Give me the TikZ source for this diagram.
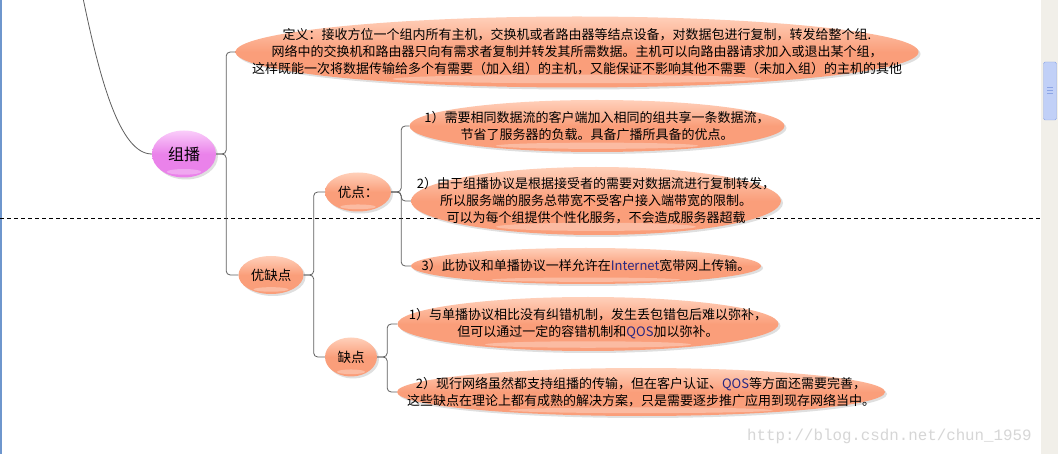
\documentclass[tikz,border=0pt]{standalone}
\usepackage{fontspec}
\setmainfont{Noto Sans CJK SC}
\newfontfamily\urlfont{Liberation Mono}
\usetikzlibrary{shapes.geometric,shadows,calc}

\definecolor{leaffill}{RGB}{250,158,122}
\definecolor{leaftop}{RGB}{255,208,186}
\definecolor{rootfill}{RGB}{234,130,234}
\definecolor{roottop}{RGB}{250,205,250}
\definecolor{linkgray}{RGB}{95,95,95}
\definecolor{latinblue}{RGB}{40,40,130}
\definecolor{markgray}{RGB}{214,214,214}
\definecolor{barbg}{RGB}{241,239,233}
\definecolor{thumbblue}{RGB}{193,208,247}
\definecolor{thumbedge}{RGB}{140,165,230}
\definecolor{edgeblue}{RGB}{110,150,205}

\newcommand\row[1]{\makebox[0pt]{#1}}

\tikzset{
  gloss/.style={path picture={
      \fill[white,opacity=.3]
        let \p1=(path picture bounding box.north east),
            \p2=(path picture bounding box.south west) in
        ($(\p2)!.5!(\p1)+(0pt,{-0.38*(\y1-\y2)})$)
        ellipse [x radius={0.27*(\x1-\x2)}, y radius={0.06*(\y1-\y2)}];
    }},
  bubble/.style={ellipse, inner sep=0pt, align=center, gloss,
    top color=leaftop, bottom color=leaffill, middle color=leaffill,
    drop shadow={shadow xshift=2pt, shadow yshift=-2pt, opacity=.25},
    font=\fontsize{13}{17}\selectfont},
  rootball/.style={top color=roottop, bottom color=rootfill, middle color=rootfill,
    font=\fontsize{16}{18}\selectfont},
  branch/.style={to path={(\tikztostart.east) -- ++(10,0) |- (\tikztotarget.west)}}
}

\begin{document}
\begin{tikzpicture}[x=1pt,y=-1pt]

        \useasboundingbox (0,0) rectangle (1058,454);
        \fill[white] (0,0) rectangle (1058,454);
        \fill[edgeblue] (0,0) rectangle (1.5,454);

        % dashed page line
        \draw[dash pattern=on 4pt off 3pt, line width=.8pt] (0,218) -- (1040,218);

        \begin{scope}[every node/.style={bubble}]
          \node[rootball, minimum width=64, minimum height=47] (root) at (184,154) {组播};
          \node[minimum width=683, minimum height=71] (def) at (577,52)
            {\row{定义：接收方位一个组内所有主机，交换机或者路由器等结点设备，对数据包进行复制，转发给整个组.}\\
             \row{网络中的交换机和路由器只向有需求者复制并转发其所需数据。主机可以向路由器请求加入或退出某个组，}\\
             \row{这样既能一次将数据传输给多个有需要（加入组）的主机，又能保证不影响其他不需要（未加入组）的主机的其他}};
          \node[minimum width=65, minimum height=38, font=\fontsize{13.5}{15}\selectfont] (pc) at (271,275) {优缺点};
          \node[minimum width=66, minimum height=39, font=\fontsize{13.5}{15}\selectfont] (pro) at (358,192) {优点：};
          \node[minimum width=52, minimum height=39, font=\fontsize{13.5}{15}\selectfont] (con) at (351,357) {缺点};
          \node[minimum width=375, minimum height=52] (pro1) at (597,126)
            {\row{1）需要相同数据流的客户端加入相同的组共享一条数据流，}\\
             \row{节省了服务器的负载。具备广播所具备的优点。}};
          \node[minimum width=370, minimum height=68] (pro2) at (596,201)
            {\row{2）由于组播协议是根据接受者的需要对数据流进行复制转发，}\\
             \row{所以服务端的服务总带宽不受客户接入端带宽的限制。}\\
             \row{可以为每个组提供个性化服务，不会造成服务器超载}};
          \node[minimum width=350, minimum height=36] (pro3) at (586,266)
            {\row{3）此协议和单播协议一样允许在\textcolor{latinblue}{Internet}宽带网上传输。}};
          \node[minimum width=381, minimum height=54] (con1) at (588,324)
            {\row{1）与单播协议相比没有纠错机制，发生丢包错包后难以弥补，}\\
             \row{但可以通过一定的容错机制和\textcolor{latinblue}{QOS}加以弥补。}};
          \node[minimum width=488, minimum height=48] (con2) at (641,392)
            {\row{2）现行网络虽然都支持组播的传输，但在客户认证、\textcolor{latinblue}{QOS}等方面还需要完善，}\\
             \row{这些缺点在理论上都有成熟的解决方案，只是需要逐步推广应用到现存网络当中。}};
        \end{scope}

        \coordinate (top) at (83,-2);
        \draw[linkgray, line width=.8pt] (top) .. controls (100,80) and (120,154) .. (root.west);

        \begin{scope}[every edge/.style={draw=linkgray, line width=.8pt, rounded corners=4pt, branch}]
          \path (root) edge (def) edge (pc);
          \path (pc) edge (pro) edge (con);
          \path (pro) edge (pro1) edge (pro2) edge (pro3);
          \path (con) edge (con1) edge (con2);
        \end{scope}

        \node[font=\urlfont\fontsize{15.8}{17}\selectfont, text=markgray, anchor=west, inner sep=0pt]
          (mark) at (747,436) {http://blog.csdn.net/chun\_1959};

        % scroll bar
        \fill[barbg] (1041,0) rectangle (1058,454);
        \draw[thumbedge, fill=thumbblue, rounded corners=1.5pt] (1043.5,62) rectangle (1056.5,120);
        \foreach \y in {87,90,93} {
          \draw[thumbedge] (1047,\y) -- (1053,\y);
        }

      \end{tikzpicture}
\end{document}
